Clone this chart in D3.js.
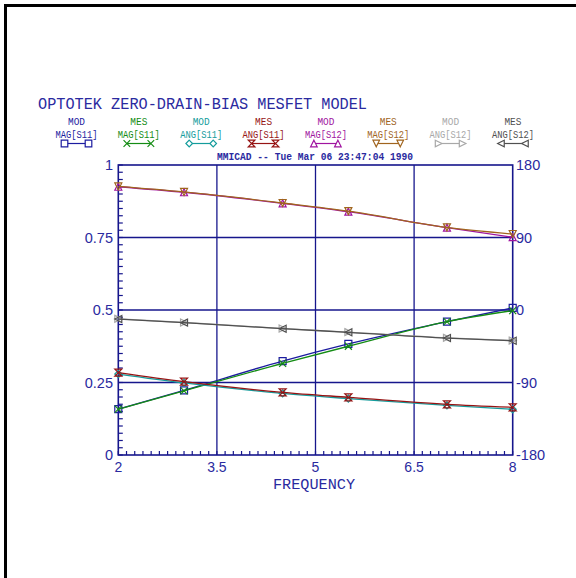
<!DOCTYPE html>
<html>
<head>
<meta charset="utf-8">
<script src="https://cdn.jsdelivr.net/npm/d3@7"></script>
<style>
  html, body { margin: 0; padding: 0; background: #fff; }
  svg { display: block; }
</style>
</head>
<body>
<svg id="chart" width="576" height="578"></svg>
<script>
// Frequency points (GHz) where the model and measurement are sampled
const freqs = [2, 3, 4.5, 5.5, 7, 8];

// Magnitudes (left axis, 0..1)
const modMagS11 = [0.158, 0.223, 0.324, 0.383, 0.460, 0.507];
const mesMagS11 = [0.158, 0.221, 0.316, 0.375, 0.460, 0.498];
const modMagS12 = [0.925, 0.906, 0.868, 0.839, 0.784, 0.751];
const mesMagS12 = [0.926, 0.907, 0.869, 0.841, 0.785, 0.762];

// Angles in degrees (right axis, -180..180)
const modAngS11 = [-79.5, -90.5, -103.5, -110.0, -118.5, -123.3];
const mesAngS11 = [-77.8, -89.0, -102.2, -108.4, -117.1, -120.8];
const modAngS12 = [-11.0, -15.5, -23.0, -27.5, -34.6, -38.0];
const mesAngS12 = [-11.2, -15.7, -23.2, -27.7, -34.8, -38.1];

// Axis tick labels
const xTicks = [2, 3.5, 5, 6.5, 8];
const magTicks = [0, 0.25, 0.5, 0.75, 1];
const angTicks = [-180, -90, 0, 90, 180];

const titleText = "OPTOTEK ZERO-DRAIN-BIAS MESFET MODEL";
const stampText = "MMICAD -- Tue Mar 06 23:47:04 1990";
const xTitle = "FREQUENCY";

// Legend / series definitions
const series = [
  { top: "MOD", bottom: "MAG[S11]", color: "#1c1ca0", sym: "square",   axis: "mag", values: modMagS11 },
  { top: "MES", bottom: "MAG[S11]", color: "#148c14", sym: "cross",    axis: "mag", values: mesMagS11 },
  { top: "MOD", bottom: "ANG[S11]", color: "#149c9c", sym: "diamond",  axis: "ang", values: modAngS11 },
  { top: "MES", bottom: "ANG[S11]", color: "#961414", sym: "hourglass",axis: "ang", values: mesAngS11 },
  { top: "MOD", bottom: "MAG[S12]", color: "#a014a0", sym: "triUp",    axis: "mag", values: modMagS12 },
  { top: "MES", bottom: "MAG[S12]", color: "#a0641e", sym: "triDown",  axis: "mag", values: mesMagS12 },
  { top: "MOD", bottom: "ANG[S12]", color: "#a8a8a8", sym: "triRight", axis: "ang", values: modAngS12 },
  { top: "MES", bottom: "ANG[S12]", color: "#505050", sym: "triLeft",  axis: "ang", values: mesAngS12 }
];

const navy = "#16168c";
const textBlue = "#2a2aa0";
const mono = "'Liberation Mono', 'DejaVu Sans Mono', monospace";
const sans = "'Liberation Sans', Arial, sans-serif";

const svg = d3.select("#chart");

// Outer frame (top and left edges)
svg.append("path")
  .attr("d", "M5.5,578 L5.5,5.5 L576,5.5")
  .attr("fill", "none").attr("stroke", "#000").attr("stroke-width", 3);

const plot = { left: 118.3, right: 512.7, top: 165, bottom: 455 };

const x = d3.scaleLinear().domain([2, 8]).range([plot.left, plot.right]);
const yMag = d3.scaleLinear().domain([0, 1]).range([plot.bottom, plot.top]);
const yAng = d3.scaleLinear().domain([-180, 180]).range([plot.bottom, plot.top]);

// Title
svg.append("text")
  .attr("x", 38).attr("y", 109)
  .attr("textLength", 329).attr("lengthAdjust", "spacingAndGlyphs")
  .attr("font-family", mono).attr("font-size", 16)
  .attr("fill", textBlue)
  .text(titleText);

// Marker shapes
function symbolPath(sym, s) {
  switch (sym) {
    case "square":   return `M${-s},${-s}H${s}V${s}H${-s}Z`;
    case "cross":    return `M${-s},${-s}L${s},${s}M${-s},${s}L${s},${-s}`;
    case "diamond":  return `M0,${-s}L${s},0L0,${s}L${-s},0Z`;
    case "hourglass":return `M${-s},${-s}L${s},${-s}L${-s},${s}L${s},${s}Z`;
    case "triUp":    return `M0,${-s}L${s},${s}L${-s},${s}Z`;
    case "triDown":  return `M0,${s}L${s},${-s}L${-s},${-s}Z`;
    case "triRight": return `M${-s},${-s}L${s},0L${-s},${s}Z`;
    case "triLeft":  return `M${s},${-s}L${-s},0L${s},${s}Z`;
  }
}

// Legend
const legend = svg.append("g");
series.forEach((d, i) => {
  const cx = 76.5 + i * 62.35;
  const g = legend.append("g").attr("transform", `translate(${cx},0)`);
  g.append("text").attr("x", 0).attr("y", 124.5)
    .attr("text-anchor", "middle")
    .attr("font-family", mono).attr("font-size", 10)
    .attr("textLength", 17).attr("lengthAdjust", "spacingAndGlyphs")
    .attr("fill", d.color).text(d.top);
  g.append("text").attr("x", 0).attr("y", 137.5)
    .attr("text-anchor", "middle")
    .attr("font-family", mono).attr("font-size", 10)
    .attr("textLength", 42).attr("lengthAdjust", "spacingAndGlyphs")
    .attr("fill", d.color).text(d.bottom);
  g.append("line").attr("x1", -12).attr("x2", 12)
    .attr("y1", 143.5).attr("y2", 143.5)
    .attr("stroke", d.color).attr("stroke-width", 1.2);
  [-12, 12].forEach(mx => {
    g.append("path")
      .attr("transform", `translate(${mx},143.5)`)
      .attr("d", symbolPath(d.sym, 3.3))
      .attr("fill", "#fff").attr("stroke", d.color).attr("stroke-width", 1.2);
  });
});

// Time stamp
svg.append("text")
  .attr("x", 217).attr("y", 160)
  .attr("textLength", 196).attr("lengthAdjust", "spacingAndGlyphs")
  .attr("font-family", mono).attr("font-size", 10.5).attr("font-weight", "bold")
  .attr("fill", textBlue)
  .text(stampText);

// Grid lines
const grid = svg.append("g").attr("stroke", navy).attr("stroke-width", 1.3);
[3.5, 5, 6.5].forEach(v => {
  grid.append("line").attr("x1", x(v)).attr("x2", x(v))
    .attr("y1", plot.top).attr("y2", plot.bottom);
});
[0.25, 0.5, 0.75].forEach(v => {
  grid.append("line").attr("x1", plot.left).attr("x2", plot.right)
    .attr("y1", yMag(v)).attr("y2", yMag(v));
});

// Plot frame
svg.append("rect")
  .attr("x", plot.left).attr("y", plot.top)
  .attr("width", plot.right - plot.left).attr("height", plot.bottom - plot.top)
  .attr("fill", "none").attr("stroke", navy).attr("stroke-width", 1.6);

// Minor ticks: left axis every 0.025, bottom axis every 0.125
const minorY = d3.range(0, 1.0001, 0.025);
svg.append("g").selectAll("line").data(minorY).join("line")
  .attr("x1", plot.left).attr("x2", plot.left + 4.5)
  .attr("y1", d => yMag(d)).attr("y2", d => yMag(d))
  .attr("stroke", navy).attr("stroke-width", 1.2);
const minorX = d3.range(2, 8.0001, 0.125);
svg.append("g").selectAll("line").data(minorX).join("line")
  .attr("x1", d => x(d)).attr("x2", d => x(d))
  .attr("y1", plot.bottom).attr("y2", plot.bottom - 4)
  .attr("stroke", navy).attr("stroke-width", 1.2);

// Axis labels
const labels = svg.append("g").attr("font-family", sans).attr("font-size", 14.5).attr("fill", textBlue);
labels.selectAll(".ym").data(magTicks).join("text")
  .attr("x", 113).attr("y", d => yMag(d)).attr("dy", "0.36em")
  .attr("text-anchor", "end")
  .text(d => d === 0 ? "0" : d3.format("")(d));
labels.selectAll(".ya").data(angTicks).join("text")
  .attr("x", 516).attr("y", d => yAng(d)).attr("dy", "0.36em")
  .attr("text-anchor", "start")
  .text(d => d < 0 ? "-" + Math.abs(d) : String(d));
labels.selectAll(".xt").data(xTicks).join("text")
  .attr("x", d => x(d)).attr("y", 471.5)
  .attr("text-anchor", "middle")
  .attr("font-size", 14)
  .text(d => String(d));

svg.append("text")
  .attr("x", 314).attr("y", 488.5)
  .attr("text-anchor", "middle")
  .attr("textLength", 82).attr("lengthAdjust", "spacingAndGlyphs")
  .attr("font-family", mono).attr("font-size", 15)
  .attr("fill", textBlue)
  .text(xTitle);

// Data curves and markers
const plotG = svg.append("g");
series.forEach(d => {
  const yS = d.axis === "mag" ? yMag : yAng;
  const pts = freqs.map((f, i) => [x(f), yS(d.values[i])]);
  const line = d3.line().curve(d3.curveMonotoneX);
  plotG.append("path")
    .attr("d", line(pts))
    .attr("fill", "none").attr("stroke", d.color).attr("stroke-width", 1.3);
  pts.forEach(p => {
    plotG.append("path")
      .attr("transform", `translate(${p[0]},${p[1]})`)
      .attr("d", symbolPath(d.sym, 3.5))
      .attr("fill", "none").attr("stroke", d.color).attr("stroke-width", 1.2);
  });
});
</script>
</body>
</html>
